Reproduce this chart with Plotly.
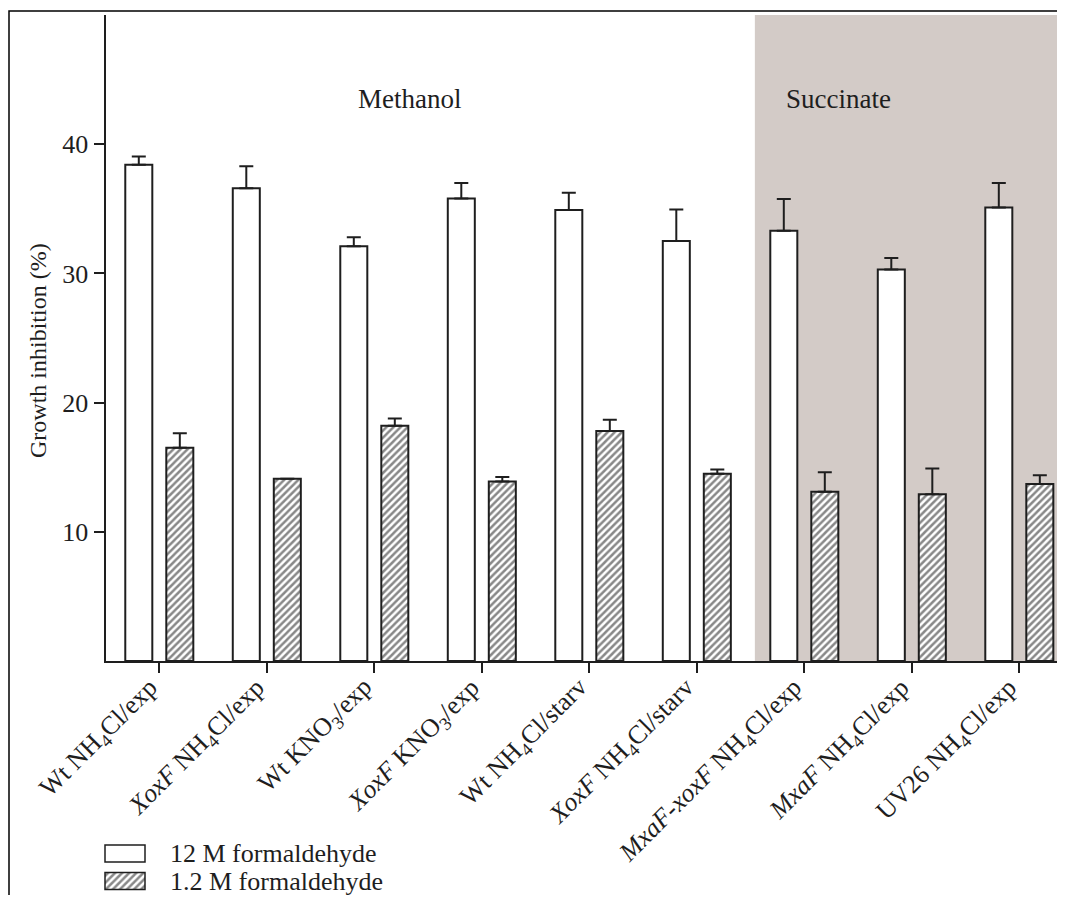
import plotly.graph_objects as go

# ---------------- data ----------------
categories = [
    "Wt NH<sub>4</sub>Cl/exp",
    "<i>XoxF</i> NH<sub>4</sub>Cl/exp",
    "Wt KNO<sub>3</sub>/exp",
    "<i>XoxF</i> KNO<sub>3</sub>/exp",
    "Wt NH<sub>4</sub>Cl/starv",
    "<i>XoxF</i> NH<sub>4</sub>Cl/starv",
    "<i>MxaF</i>-<i>xoxF</i> NH<sub>4</sub>Cl/exp",
    "<i>MxaF</i> NH<sub>4</sub>Cl/exp",
    "UV26 NH<sub>4</sub>Cl/exp",
]
series_names = ["12 M formaldehyde", "1.2 M formaldehyde"]
high_values = [38.4, 36.6, 32.1, 35.8, 34.9, 32.5, 33.3, 30.3, 35.1]
high_errors = [0.65, 1.7, 0.7, 1.2, 1.35, 2.45, 2.45, 0.9, 1.9]
low_values = [16.5, 14.1, 18.2, 13.9, 17.8, 14.5, 13.1, 12.9, 13.7]
low_errors = [1.13, 0.0, 0.56, 0.34, 0.88, 0.33, 1.5, 2.0, 0.67]
region_labels = ["Methanol", "Succinate"]
y_ticks = [10, 20, 30, 40]
y_title = "Growth inhibition (%)"

# ---------------- style ----------------
# the page body adds an 8px margin on every side; size the figure so the
# page is exactly the window size and place everything in window pixels
OFF = 8
W, H = 1065 - OFF, 903 - 2 * OFF
FONT = "Liberation Serif, Times New Roman, serif"
INK = "#1e1e1e"
SHADE = "#d3cbc7"
HATCH = dict(shape="/", fgcolor="#111111", bgcolor="white", size=5, solidity=0.5)


def px_x(p):
    return (p - OFF) / W


def px_y(p):
    return (H - (p - OFF)) / H


fig = go.Figure()

err_style = dict(type="data", symmetric=False, color=INK, thickness=2, width=7)

fig.add_trace(go.Bar(
    x=categories, y=high_values, name=series_names[0],
    marker=dict(color="white", line=dict(color=INK, width=2)),
    error_y=dict(array=high_errors, arrayminus=[0] * len(high_errors), **err_style),
    showlegend=False,
))
fig.add_trace(go.Bar(
    x=categories, y=low_values, name=series_names[1],
    marker=dict(color="white", line=dict(color=INK, width=2), pattern=HATCH),
    error_y=dict(array=low_errors, arrayminus=[0] * len(low_errors), **err_style),
    showlegend=False,
))

# legend swatches drawn on a small hidden axis (rows 0 and 1)
ROW0, ROW1, BOXH = 853.5, 881.0, 17.0
unit = ROW1 - ROW0
legend_top_px = 834.5
y2_top = (legend_top_px - ROW0) / unit
y2_bottom = (OFF + H - ROW0) / unit

fig.add_trace(go.Bar(
    x=[1], y=[0], orientation="h", width=BOXH / unit, xaxis="x2", yaxis="y2",
    marker=dict(color="white", line=dict(color=INK, width=1.5)),
    showlegend=False, hoverinfo="skip",
))
fig.add_trace(go.Bar(
    x=[1], y=[1], orientation="h", width=BOXH / unit, xaxis="x2", yaxis="y2",
    marker=dict(color="white", line=dict(color=INK, width=1.5), pattern=HATCH),
    showlegend=False, hoverinfo="skip",
))

annotations = [
    dict(text=region_labels[0], x=px_x(409.5), y=px_y(82), xref="paper", yref="paper",
         showarrow=False, font=dict(family=FONT, size=27, color=INK)),
    dict(text=region_labels[1], x=px_x(893), y=px_y(82), xref="paper", yref="paper",
         showarrow=False, font=dict(family=FONT, size=27, color=INK)),
    dict(text=y_title, x=px_x(23), y=px_y(351), xref="paper", yref="paper",
         showarrow=False, textangle=-90, font=dict(family=FONT, size=24, color=INK)),
]
for i, nm in enumerate(series_names):
    annotations.append(dict(text=nm, x=px_x(168), y=i, xref="paper", yref="y2",
                            xanchor="left", showarrow=False,
                            font=dict(family=FONT, size=26, color=INK)))
# rotated category labels, their upper-right end just below each tick
for i, cat in enumerate(categories):
    annotations.append(dict(text=cat, x=i, xref="x", y=px_y(670), yref="paper",
                            xanchor="right", yanchor="top", textangle=-45,
                            xshift=8, showarrow=False,
                            font=dict(family=FONT, size=26, color=INK)))

shapes = [
    dict(type="rect", xref="x", yref="y", x0=5.54, x1=8.6, y0=0, y1=50,
         fillcolor=SHADE, line=dict(width=0), layer="below"),
    dict(type="path", xref="paper", yref="paper",
         path=f"M {px_x(9)},0 L {px_x(9)},{px_y(11)} L 1,{px_y(11)}",
         line=dict(color="black", width=1.5)),
]

fig.update_layout(
    width=W, height=H,
    margin=dict(l=0, r=0, t=0, b=0),
    paper_bgcolor="white", plot_bgcolor="white",
    barmode="group", bargap=0.237, bargroupgap=0.341,
    font=dict(family=FONT, size=25, color=INK),
    xaxis=dict(
        domain=[px_x(105.55), 1], range=[-0.5, 8.425],
        showline=True, linecolor=INK, linewidth=2,
        ticks="outside", ticklen=10, tickwidth=2, tickcolor=INK,
        showticklabels=False,
        showgrid=False, zeroline=False, automargin=False, fixedrange=True,
    ),
    yaxis=dict(
        domain=[px_y(661), px_y(15)], range=[0, 50],
        tickvals=y_ticks, showline=True, linecolor=INK, linewidth=2,
        ticks="outside", ticklen=10, tickwidth=2, tickcolor=INK,
        tickfont=dict(family=FONT, size=26, color=INK),
        showgrid=False, zeroline=False, automargin=False, fixedrange=True,
    ),
    xaxis2=dict(domain=[px_x(104), px_x(146)], range=[-0.025, 1.025],
                anchor="y2", visible=False, fixedrange=True),
    yaxis2=dict(domain=[0, px_y(legend_top_px)], range=[y2_bottom, y2_top],
                anchor="x2", visible=False, fixedrange=True),
    annotations=annotations,
    shapes=shapes,
)

fig.write_html("out.html")
